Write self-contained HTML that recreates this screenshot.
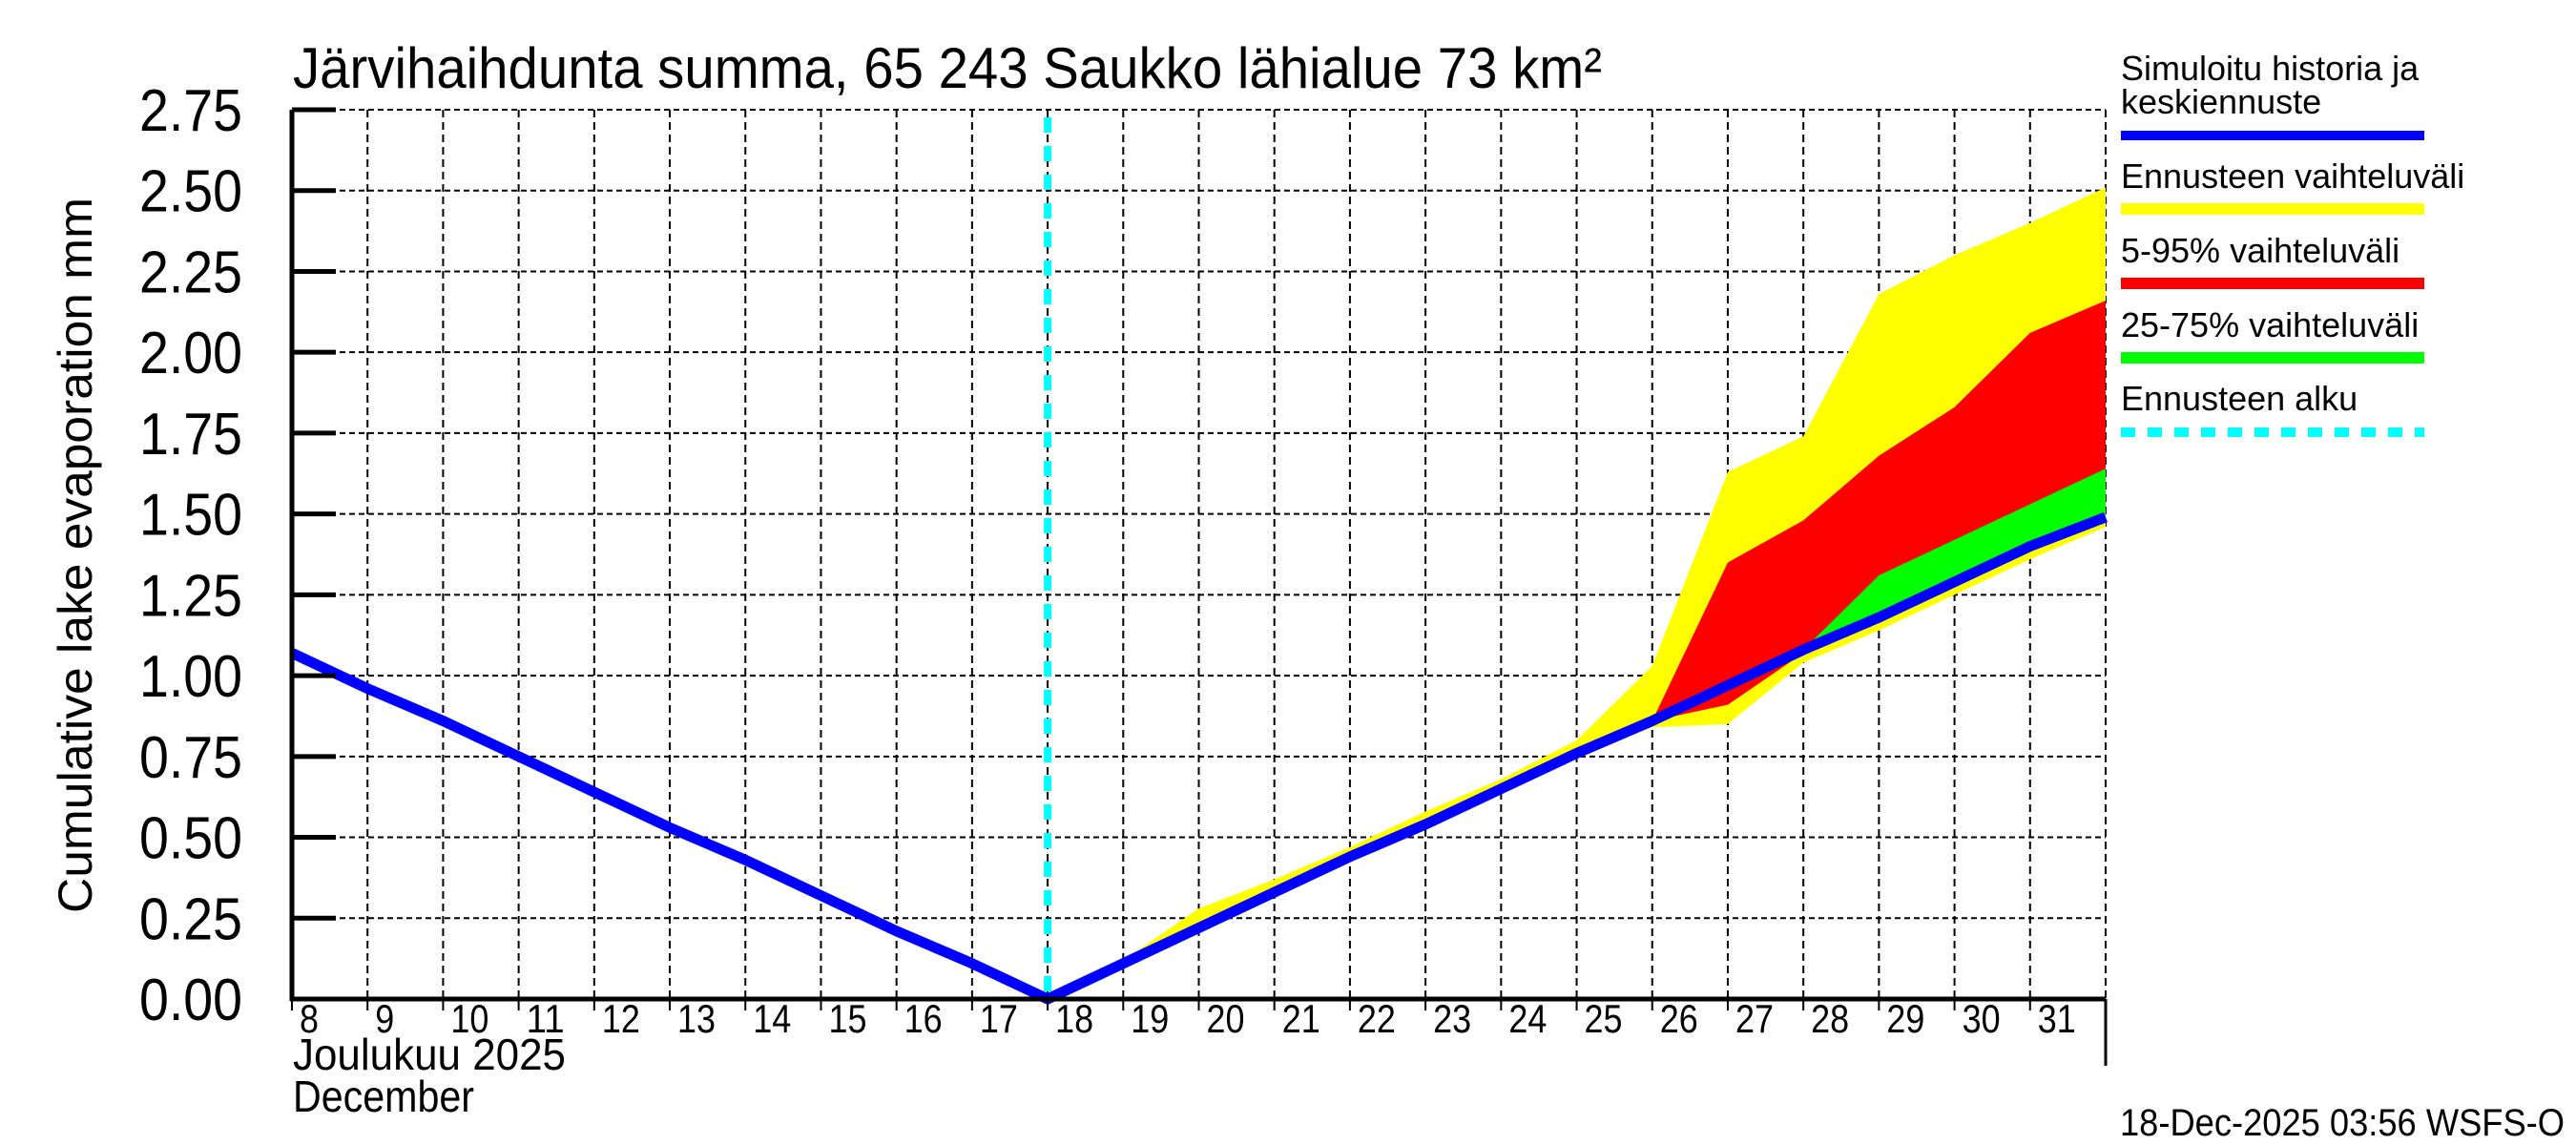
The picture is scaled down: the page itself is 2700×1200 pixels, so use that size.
<!DOCTYPE html>
<html><head><meta charset="utf-8"><style>
html,body{margin:0;padding:0;background:#fff;}
svg{display:block;font-family:"Liberation Sans",sans-serif;}
</style></head><body>
<svg id="chart" width="2700" height="1200" viewBox="0 0 2700 1200" xmlns="http://www.w3.org/2000/svg">
<g id="grid"></g>
<g id="bands"></g>
<g id="lines"></g>
<g id="axes"></g>
<text x="307" y="92" font-size="60" textLength="1372" lengthAdjust="spacingAndGlyphs">Järvihaihdunta summa, 65 243 Saukko lähialue 73 km²</text>
<text transform="translate(96,582) rotate(-90)" text-anchor="middle" font-size="50" textLength="750" lengthAdjust="spacingAndGlyphs">Cumulative lake evaporation    mm</text>
<text x="307" y="1121" font-size="46" textLength="286" lengthAdjust="spacingAndGlyphs">Joulukuu  2025</text>
<text x="307" y="1165" font-size="46" textLength="190" lengthAdjust="spacingAndGlyphs">December</text>
<text x="2222" y="1190" font-size="40" textLength="466" lengthAdjust="spacingAndGlyphs">18-Dec-2025 03:56 WSFS-O</text>
<g>
<text x="2223" y="84" font-size="36">Simuloitu historia ja</text>
<text x="2223" y="119" font-size="36">keskiennuste</text>
<rect x="2223" y="137" width="318" height="10" fill="#0000ff"/>
<text x="2223" y="197" font-size="36">Ennusteen vaihteluväli</text>
<rect x="2223" y="213" width="318" height="12" fill="#ffff00"/>
<text x="2223" y="275" font-size="36">5-95% vaihteluväli</text>
<rect x="2223" y="291" width="318" height="12" fill="#ff0000"/>
<text x="2223" y="353" font-size="36">25-75% vaihteluväli</text>
<rect x="2223" y="369" width="318" height="12" fill="#00ff00"/>
<text x="2223" y="430" font-size="36">Ennusteen alku</text>
<line x1="2223" y1="453" x2="2541" y2="453" stroke="#00ffff" stroke-width="10" stroke-dasharray="15 13"/>
</g>
</svg>
<script>
// Days: index 0 = Dec 8 ... index 24 = Jan 1
const dayLabels = ["8","9","10","11","12","13","14","15","16","17","18","19","20","21","22","23","24","25","26","27","28","29","30","31"];
const yTicks = [0,0.25,0.5,0.75,1.0,1.25,1.5,1.75,2.0,2.25,2.5,2.75];
const yTickLabels = ["0.00","0.25","0.50","0.75","1.00","1.25","1.50","1.75","2.00","2.25","2.50","2.75"];
const forecastStartDay = 10;
const blueValues = [1.07,0.96,0.86,0.75,0.64,0.53,0.43,0.32,0.21,0.11,0,0.11,0.22,0.33,0.44,0.54,0.65,0.76,0.86,0.97,1.08,1.18,1.29,1.40,1.49];
const rangeDays = [10,11,12,13,14,15,16,17,18,19,20,21,22,23,24];
const rangeMax = [0,0.12,0.28,0.37,0.47,0.58,0.68,0.80,1.03,1.63,1.74,2.18,2.30,2.40,2.51];
const rangeMin = [0,0.10,0.21,0.32,0.43,0.53,0.64,0.75,0.84,0.85,1.04,1.14,1.25,1.36,1.46];
const p95Days = [18,19,20,21,22,23,24];
const p95 = [0.86,1.35,1.48,1.68,1.83,2.06,2.16];
const p05 = [0.86,0.91,1.07,1.17,1.28,1.39,1.49];
const p75Days = [19,20,21,22,23,24];
const p75 = [0.97,1.08,1.31,1.42,1.53,1.64];
const p25 = [0.97,1.07,1.17,1.28,1.39,1.48];

const X0=306, X1=2207, Y0=1047, Y1=115, NDAYS=24, YMAX=2.75;
const xs = d => X0 + (X1-X0)*d/NDAYS;
const ys = v => Y0 - (Y0-Y1)*v/YMAX;
const NS="http://www.w3.org/2000/svg";
function mk(tag, parent, attrs){const e=document.createElementNS(NS,tag);for(const k in attrs)e.setAttribute(k,attrs[k]);parent.appendChild(e);return e;}
const grid=document.getElementById('grid'), bands=document.getElementById('bands'), lines=document.getElementById('lines'), axes=document.getElementById('axes');

yTicks.forEach((v,i)=>{
  const g=mk('line',grid,{x1:X0,x2:X1,y1:ys(v),y2:ys(v),stroke:'#000','stroke-width':2,'stroke-dasharray':'6 4'});
  
  
  const t=mk('line',axes,{x1:X0,x2:X0+46,y1:ys(v),y2:ys(v),stroke:'#000','stroke-width':5});
  
  
  const l=mk('text',axes,{x:254,y:ys(v)+22,'font-size':62,'text-anchor':'end',textLength:108,lengthAdjust:'spacingAndGlyphs'});
  l.textContent=yTickLabels[i];
  
  
});
for(let d=1; d<=NDAYS; d++){
  const g=mk('line',grid,{x1:xs(d),x2:xs(d),y1:Y1,y2:Y0,stroke:'#000','stroke-width':2,'stroke-dasharray':'8 5'});
  
  
}
dayLabels.forEach((lab,d)=>{
  const t=mk('line',axes,{x1:xs(d),x2:xs(d),y1:Y0,y2:Y0+12,stroke:'#000','stroke-width':2});
  
  
  const l=mk('text',axes,{x:xs(d)+8,y:1082,'font-size':42,textLength:(lab.length*20),lengthAdjust:'spacingAndGlyphs'});
  l.textContent=lab;
  
  
});

function band(days, hi, lo, color, name){
  let pts=days.map((d,i)=>xs(d)+','+ys(hi[i]));
  for(let i=days.length-1;i>=0;i--) pts.push(xs(days[i])+','+ys(lo[i]));
  const p=mk('polygon',bands,{points:pts.join(' '),fill:color});
  
  
}
band(rangeDays,rangeMax,rangeMin,'#ffff00','forecast-range-band');
band(p95Days,p95,p05,'#ff0000','band-5-95');
band(p75Days,p75,p25,'#00ff00','band-25-75');

const bl=mk('polyline',lines,{points:blueValues.map((v,d)=>xs(d)+','+ys(v)).join(' '),fill:'none',stroke:'#0000ff','stroke-width':11});


const cy=mk('line',lines,{x1:xs(forecastStartDay),x2:xs(forecastStartDay),y1:Y1+8,y2:Y0,stroke:'#00ffff','stroke-width':8,'stroke-dasharray':'16 14'});



const la=mk('line',axes,{x1:X0,x2:X0,y1:Y1,y2:Y0+2,stroke:'#000','stroke-width':5});


const ba=mk('line',axes,{x1:X0-2,x2:X1,y1:Y0,y2:Y0,stroke:'#000','stroke-width':5});


const ra=mk('line',axes,{x1:X1,x2:X1,y1:Y0,y2:1117,stroke:'#000','stroke-width':3});


</script>
</body></html>
